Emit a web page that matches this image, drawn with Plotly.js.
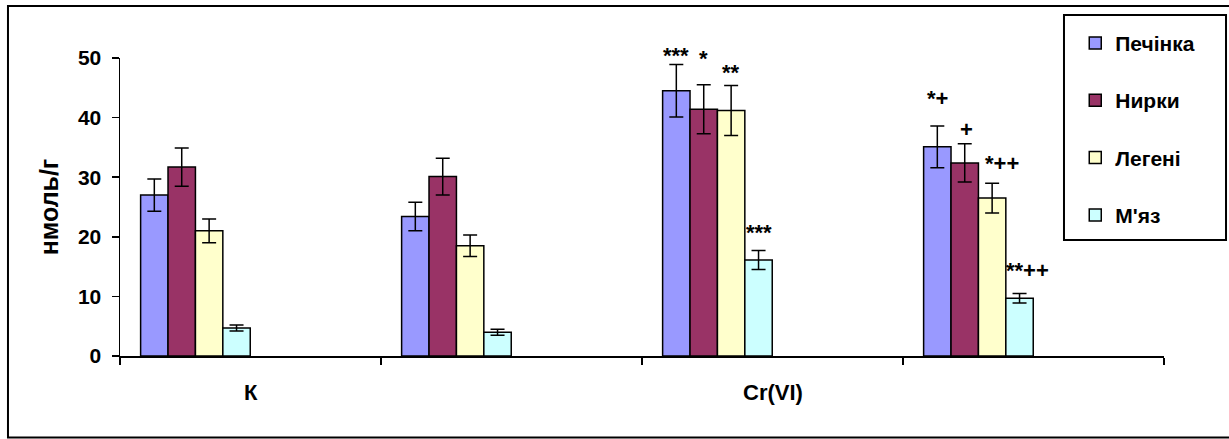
<!DOCTYPE html>
<html>
<head>
<meta charset="utf-8">
<script src="https://cdn.plot.ly/plotly-3.0.1.min.js"></script>
<style>
html,body{margin:0;padding:0;background:#fff;}
#chart{width:1229px;height:439px;}
</style>
</head>
<body>
<div id="chart"></div>
<script>
// ---- data ----
var groups = [0, 1, 2, 3];
var groupLabels = ["К", "", "Cr(VI)", ""];
var seriesNames = ["Печінка", "Нирки", "Легені", "М'яз"];
var liver  = [27.0, 23.4, 44.5, 35.1];
var liverErr  = [2.7, 2.4, 4.4, 3.5];
var kidney = [31.7, 30.1, 41.4, 32.4];
var kidneyErr = [3.2, 3.1, 4.1, 3.2];
var lung   = [21.0, 18.5, 41.2, 26.5];
var lungErr   = [2.0, 1.8, 4.2, 2.5];
var muscle = [4.7, 4.0, 16.1, 9.7];
var muscleErr = [0.5, 0.5, 1.6, 0.8];
var liverSig  = ["", "", "***", "*+"];
var kidneySig = ["", "", "*", "+"];
var lungSig   = ["", "", "**", "*++"];
var muscleSig = ["", "", "***", "**++"];
var yTicks = [0, 10, 20, 30, 40, 50];

// ---- style ----
var colors = ["#9999FF", "#993366", "#FFFFCC", "#CCFFFF"];
var barW = 0.105, barStart = 0.079;
var FONT = "Arial, 'Liberation Sans', sans-serif";
// per-label pixel shifts [xshift, yshift]
var sigShift = [
  [[0,0],[0,0],[0,-5],[0,13]],
  [[0,0],[0,0],[0,12],[2,0]],
  [[0,0],[0,0],[0,-2],[10,5]],
  [[0,0],[0,0],[0,4],[8,8]]
];

var vals = [liver, kidney, lung, muscle];
var errs = [liverErr, kidneyErr, lungErr, muscleErr];
var sigs = [liverSig, kidneySig, lungSig, muscleSig];

var traces = vals.map(function(v, i) {
  return {
    type: "bar",
    name: seriesNames[i],
    legendgroup: "g" + i,
    x: groups,
    y: v,
    offset: barStart + i * barW,
    width: barW,
    marker: {color: colors[i], line: {color: "#000", width: 1.5}},
    error_y: {type: "data", array: errs[i], visible: true, color: "#000", thickness: 1.5, width: 7},
    hoverinfo: "y"
  };
});

var annotations = [];
sigs.forEach(function(s, i) {
  s.forEach(function(t, g) {
    if (!t) return;
    annotations.push({
      x: groups[g] + barStart + (i + 0.5) * barW,
      y: vals[i][g] + errs[i][g],
      xref: "x", yref: "y",
      text: t,
      showarrow: false,
      yanchor: "bottom",
      xshift: sigShift[i][g][0],
      yshift: sigShift[i][g][1],
      font: {family: FONT, size: 22, color: "#000", weight: "bold"}
    });
  });
});
groupLabels.forEach(function(l, g) {
  if (!l) return;
  annotations.push({
    x: groups[g] + 0.5, y: -0.124, xref: "x", yref: "paper",
    text: l, showarrow: false, yanchor: "middle",
    font: {family: FONT, size: 22, color: "#000", weight: "bold"}
  });
});

var layout = {
  width: 1229, height: 439,
  margin: {l: 120, r: 65, t: 58, b: 83},
  paper_bgcolor: "#fff", plot_bgcolor: "#fff",
  showlegend: true,
  barmode: "overlay",
  legend: {
    x: 0.9150, y: 1.118, xanchor: "left", yanchor: "top",
    bgcolor: "rgba(0,0,0,0)", borderwidth: 0,
    traceorder: "grouped", tracegroupgap: 27,
    font: {family: FONT, size: 21, color: "#000", weight: "bold"}
  },
  xaxis: {
    range: [0, 4], tickvals: [0, 1, 2, 3, 4], showticklabels: false,
    ticks: "outside", ticklen: 7, tickwidth: 1.5, tickcolor: "#000",
    showline: true, linecolor: "#000", linewidth: 1.5,
    showgrid: false, zeroline: false, fixedrange: true
  },
  yaxis: {
    range: [0, 50], tickvals: yTicks,
    ticks: "outside", ticklen: 7, tickwidth: 1.5, tickcolor: "#000",
    ticklabelstandoff: 6,
    tickfont: {family: FONT, size: 21, color: "#000", weight: "bold"},
    showline: true, linecolor: "#000", linewidth: 1.5,
    showgrid: false, zeroline: false, fixedrange: true,
    title: {text: "нмоль/г", font: {family: FONT, size: 25, color: "#000", weight: "bold"}, standoff: 12}
  },
  annotations: annotations,
  shapes: [
    {type: "rect", xref: "paper", yref: "paper", x0: -0.1073, x1: 1.0728, y0: -0.2735, y1: 1.1745,
     line: {color: "#000", width: 2}, fillcolor: "rgba(0,0,0,0)", layer: "below"},
    {type: "rect", xref: "paper", yref: "paper", x0: 0.9042, x1: 1.0594, y0: 0.3893, y1: 1.1443,
     line: {color: "#000", width: 2}, fillcolor: "#fff", layer: "below"}
  ]
};

Plotly.newPlot("chart", traces, layout, {displayModeBar: false, staticPlot: true});
</script>
</body>
</html>
